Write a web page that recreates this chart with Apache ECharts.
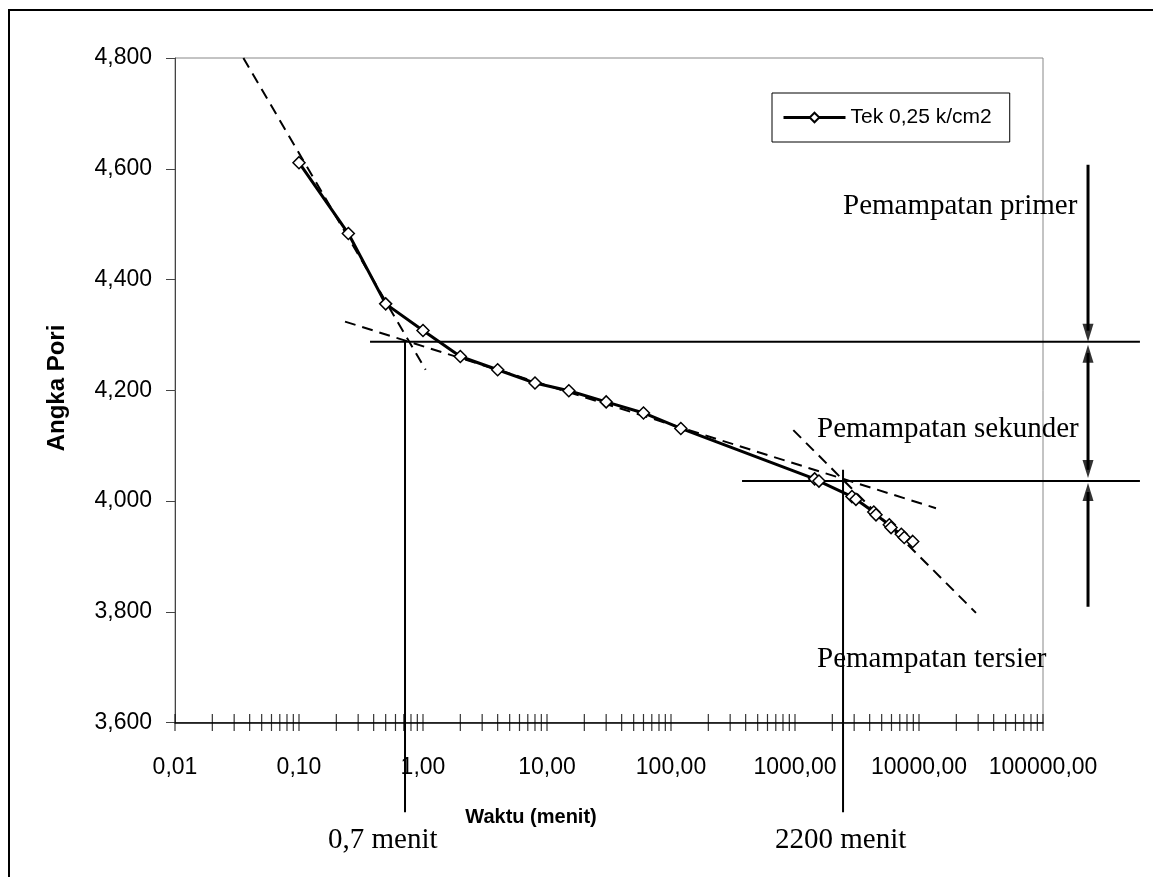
<!DOCTYPE html>
<html><head><meta charset="utf-8">
<script src="https://cdn.jsdelivr.net/npm/echarts@6/dist/echarts.min.js"></script>
<style>html,body{margin:0;padding:0;background:#fff}#c{width:1153px;height:877px}</style>
</head><body><div id="c"></div>
<script>
// ---- data ----
const seriesName = 'Tek 0,25 k/cm2';
const timeMin   = [0.1, 0.25, 0.5, 1, 2, 4, 8, 15, 30, 60, 120, 1440, 1560, 2880, 3100, 4320, 4500, 5760, 5950, 7200, 7600, 8900];
const voidRatio = [4.611, 4.483, 4.356, 4.308, 4.261, 4.237, 4.213, 4.199, 4.179, 4.159, 4.131, 4.040, 4.036, 4.008, 4.003, 3.980, 3.975, 3.957, 3.952, 3.940, 3.934, 3.927];

// tangent (dashed) construction lines
const primaryTanT   = [0.0356, 1.05];   const primaryTanE   = [4.800, 4.237];
const secondaryTanT = [0.235, 13700];   const secondaryTanE = [4.324, 3.987];
const tertiaryTanT  = [969, 28800];     const tertiaryTanE  = [4.128, 3.798];

// reference construction lines
const levelPrimEnd = 4.2875;  const levelPrimT = [0.374, 605000];
const levelSecEnd  = 4.0363;  const levelSecT  = [374, 605000];
const tPrimEnd = 0.716;   const tPrimEndE = [4.2875, 3.438];
const tSecEnd  = 2440;    const tSecEndE  = [4.0563, 3.438];

// arrows on the right
const arrowT = 230700;
const arrowPrimE = [4.6072, 4.2875];
const arrowSecE  = [4.2875, 4.0363];
const arrowTerE  = [4.0363, 3.809];
const arrowDownTips = [4.2875, 4.0417];
const arrowUpTips   = [4.282, 4.0326];

// axes
const xMin = 0.01, xMax = 100000;
const yMin = 3.6, yMax = 4.8, yStep = 0.2;
const tickDecades = [0.01, 0.1, 1, 10, 100, 1000, 10000];
const tickMultipliers = [1, 2, 3, 4, 5, 6, 7, 8, 9];

const texts = {
  yTitle: 'Angka Pori', xTitle: 'Waktu (menit)',
  primer: 'Pemampatan primer', sekunder: 'Pemampatan sekunder', tersier: 'Pemampatan tersier',
  t1: '0,7 menit', t2: '2200 menit'
};

// ---- build ----
const pairs = (xs, ys) => xs.map((x, i) => [x, ys[i]]);
const minorTicks = [];
tickDecades.forEach(d => tickMultipliers.forEach(m => minorTicks.push([d * m, yMin])));
minorTicks.push([xMax, yMin]);

const dashed = (data) => ({
  type: 'line', data, symbol: 'none', clip: false, silent: true, z: 2,
  lineStyle: { color: '#000', width: 2, type: [11, 7] }
});

const serifFont = '29px "Liberation Serif"';
const baseGraphic = [
  { type: 'rect', z: -1, shape: { x: 9, y: 10, width: 1300, height: 1000 }, style: { fill: 'none', stroke: '#000', lineWidth: 2 } },
  { type: 'text', x: 57, y: 388, rotation: Math.PI / 2, style: { text: texts.yTitle, font: 'bold 24px "Liberation Sans"', fill: '#000', align: 'center', verticalAlign: 'middle' } },
  { type: 'text', x: 531, y: 817, style: { text: texts.xTitle, font: 'bold 20px "Liberation Sans"', fill: '#000', align: 'center', verticalAlign: 'middle' } },
  { type: 'text', x: 843, y: 192, style: { text: texts.primer, font: serifFont, fill: '#000', align: 'left', verticalAlign: 'alphabetic' } },
  { type: 'text', x: 817, y: 415, style: { text: texts.sekunder, font: serifFont, fill: '#000', align: 'left', verticalAlign: 'alphabetic' } },
  { type: 'text', x: 817, y: 645, style: { text: texts.tersier, font: serifFont, fill: '#000', align: 'left', verticalAlign: 'alphabetic' } },
  { type: 'text', x: 328, y: 826, style: { text: texts.t1, font: serifFont, fill: '#000', align: 'left', verticalAlign: 'alphabetic' } },
  { type: 'text', x: 775, y: 826, style: { text: texts.t2, font: serifFont, fill: '#000', align: 'left', verticalAlign: 'alphabetic' } }
];

const chart = echarts.init(document.getElementById('c'), null, { renderer: 'canvas' });
chart.setOption({
  animation: false,
  backgroundColor: '#fff',
  grid: { left: 175, right: 110, top: 58, bottom: 154.5, show: true, borderColor: '#888', borderWidth: 1, backgroundColor: 'transparent' },
  legend: {
    data: [seriesName], left: 772, top: 93,
    borderColor: '#000', borderWidth: 1, padding: [14, 18, 14, 10],
    itemWidth: 62, itemHeight: 12, itemGap: 5,
    lineStyle: { color: '#000', width: 3 },
    textStyle: { fontFamily: 'Liberation Sans', fontSize: 21, color: '#000' }
  },
  xAxis: {
    type: 'log', logBase: 10, min: xMin, max: xMax,
    axisLine: { lineStyle: { color: '#000', width: 1.5 } },
    axisTick: { show: false },
    splitLine: { show: false },
    axisLabel: {
      margin: 34, color: '#000', fontFamily: 'Liberation Sans', fontSize: 23,
      formatter: v => v.toFixed(2).replace('.', ',')
    }
  },
  yAxis: {
    type: 'value', min: yMin, max: yMax, interval: yStep,
    axisLine: { show: true, lineStyle: { color: '#444', width: 1 } },
    axisTick: { show: true, length: 9, lineStyle: { color: '#444' } },
    splitLine: { show: false },
    axisLabel: {
      margin: 23, color: '#000', fontFamily: 'Liberation Sans', fontSize: 23,
      formatter: v => v.toFixed(3).replace('.', ',')
    }
  },
  series: [
    {
      name: seriesName, type: 'line', data: pairs(timeMin, voidRatio), z: 5,
      symbol: 'diamond', symbolSize: 12, showSymbol: true,
      lineStyle: { color: '#000', width: 3 },
      itemStyle: { color: '#fff', borderColor: '#000', borderWidth: 1.5 }
    },
    dashed(pairs(primaryTanT, primaryTanE)),
    dashed(pairs(secondaryTanT, secondaryTanE)),
    dashed(pairs(tertiaryTanT, tertiaryTanE)),
    {
      type: 'scatter', clip: false, silent: true, z: 4,
      data: arrowDownTips.map(e => [arrowT, e]),
      symbol: 'triangle', symbolSize: [11, 18], symbolRotate: 180, symbolOffset: [0, -9],
      itemStyle: { color: '#000' }
    },
    {
      type: 'scatter', clip: false, silent: true, z: 4,
      data: arrowUpTips.map(e => [arrowT, e]),
      symbol: 'triangle', symbolSize: [11, 18], symbolOffset: [0, 9],
      itemStyle: { color: '#000' }
    },
    {
      type: 'scatter', clip: false, silent: true, z: 4,
      data: minorTicks, symbol: 'rect', symbolSize: [1.2, 17],
      itemStyle: { color: '#000' }
    }
  ],
  graphic: baseGraphic
});

// construction lines that reach outside the plot area: positioned through the chart's own scales
const px = (t, e) => chart.convertToPixel({ gridIndex: 0 }, [t, e]);
const segLine = (a, b, w) => ({
  type: 'line', z: 3, silent: true,
  shape: { x1: a[0], y1: a[1], x2: b[0], y2: b[1] },
  style: { stroke: '#000', lineWidth: w }
});
const construction = [
  segLine(px(levelPrimT[0], levelPrimEnd), px(levelPrimT[1], levelPrimEnd), 2),
  segLine(px(levelSecT[0], levelSecEnd), px(levelSecT[1], levelSecEnd), 2),
  segLine(px(tPrimEnd, tPrimEndE[0]), px(tPrimEnd, tPrimEndE[1]), 2),
  segLine(px(tSecEnd, tSecEndE[0]), px(tSecEnd, tSecEndE[1]), 2),
  segLine(px(arrowT, arrowPrimE[0]), px(arrowT, arrowPrimE[1] + 0.02), 3),
  segLine(px(arrowT, arrowSecE[0] - 0.02), px(arrowT, arrowSecE[1] + 0.02), 3),
  segLine(px(arrowT, arrowTerE[0] - 0.02), px(arrowT, arrowTerE[1]), 3)
];
chart.setOption({ graphic: baseGraphic.concat(construction) }, { replaceMerge: ['graphic'] });
</script>
</body></html>
